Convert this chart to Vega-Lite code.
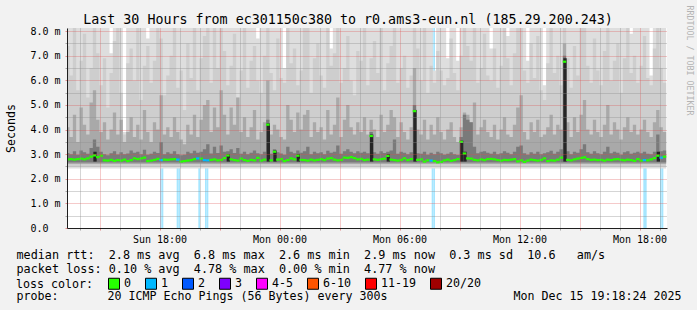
{
"$schema":"https://vega.github.io/schema/vega-lite/v6.json",
"width":600,"height":200,
"autosize":{"type":"none"},
"padding":{"left":67,"top":28,"right":30,"bottom":82},
"background":"#f2f2f2",
"config":{"view":{"stroke":null,"fill":"#ffffff"},"font":"DejaVu Sans Mono"},
"title":{"text":"Last 30 Hours from ec301150c380 to r0.ams3-eun.nl (185.29.200.243)","font":"DejaVu Sans Mono","fontSize":13.33,"fontWeight":"normal","color":"#000000","anchor":"middle","frame":"group","dx":-19,"offset":0,"baseline":"alphabetic","dy":32.5},
"datasets":{
"smoke":[
{"t":"2025-12-14T13:20","a":8.2,"b":7.4,"c":4.1,"d":3.05,"m":2.79,"l":"0"},
{"t":"2025-12-14T13:30","a":8.2,"b":6.2,"c":3.7,"d":3.0,"m":2.8,"l":"0"},
{"t":"2025-12-14T13:40","a":8.2,"b":8.2,"c":4.6,"d":3.12,"m":2.78,"l":"0"},
{"t":"2025-12-14T13:50","a":8.2,"b":5.6,"c":3.5,"d":2.98,"m":2.8,"l":"0"},
{"t":"2025-12-14T14:00","a":8.2,"b":6.8,"c":4.9,"d":3.15,"m":2.82,"l":"0"},
{"t":"2025-12-14T14:10","a":8.2,"b":7.9,"c":4.2,"d":3.08,"m":2.79,"l":"0"},
{"t":"2025-12-14T14:20","a":8.2,"b":5.3,"c":3.8,"d":3.02,"m":2.83,"l":"0"},
{"t":"2025-12-14T14:30","a":8.2,"b":6.5,"c":5.1,"d":3.25,"m":2.9,"l":"0"},
{"t":"2025-12-14T14:40","a":8.2,"b":8.2,"c":5.6,"d":3.6,"m":2.95,"l":"0"},
{"t":"2025-12-14T14:50","a":8.2,"b":7.1,"c":4.4,"d":3.3,"m":2.88,"l":"0"},
{"t":"2025-12-14T15:00","a":8.2,"b":5.8,"c":3.9,"d":3.1,"m":2.94,"l":"0"},
{"t":"2025-12-14T15:10","a":8.2,"b":6.9,"c":4.3,"d":3.0,"m":2.75,"l":"0"},
{"t":"2025-12-14T15:20","a":8.2,"b":4.9,"c":3.6,"d":2.96,"m":2.74,"l":"0"},
{"t":"2025-12-14T15:30","a":7.1,"b":6.3,"c":4.0,"d":3.04,"m":2.77,"l":"0"},
{"t":"2025-12-14T15:40","a":8.2,"b":7.6,"c":4.7,"d":3.12,"m":2.73,"l":"0"},
{"t":"2025-12-14T15:50","a":8.2,"b":8.2,"c":3.8,"d":2.99,"m":2.76,"l":"0"},
{"t":"2025-12-14T16:00","a":8.2,"b":5.5,"c":4.4,"d":3.08,"m":2.74,"l":"0"},
{"t":"2025-12-14T16:10","a":3.9,"b":3.8,"c":3.5,"d":3.0,"m":2.78,"l":"0"},
{"t":"2025-12-14T16:20","a":8.2,"b":6.7,"c":3.9,"d":3.03,"m":2.72,"l":"0"},
{"t":"2025-12-14T16:30","a":8.2,"b":7.3,"c":4.5,"d":3.15,"m":2.76,"l":"0"},
{"t":"2025-12-14T16:40","a":8.2,"b":6.0,"c":3.7,"d":3.06,"m":2.83,"l":"0"},
{"t":"2025-12-14T16:50","a":8.2,"b":8.2,"c":4.2,"d":3.1,"m":2.8,"l":"0"},
{"t":"2025-12-14T17:00","a":8.2,"b":5.2,"c":3.6,"d":3.0,"m":2.83,"l":"0"},
{"t":"2025-12-14T17:10","a":8.2,"b":6.6,"c":4.8,"d":3.18,"m":2.86,"l":"0"},
{"t":"2025-12-14T17:20","a":7.7,"b":7.4,"c":3.9,"d":2.98,"m":2.72,"l":"0"},
{"t":"2025-12-14T17:30","a":8.2,"b":5.9,"c":3.5,"d":3.02,"m":2.74,"l":"0"},
{"t":"2025-12-14T17:40","a":8.2,"b":6.8,"c":4.3,"d":3.1,"m":2.77,"l":"0"},
{"t":"2025-12-14T17:50","a":8.2,"b":8.2,"c":4.0,"d":3.05,"m":2.81,"l":"0"},
{"t":"2025-12-14T18:00","a":8.2,"b":7.7,"c":5.4,"d":3.5,"m":2.76,"l":"1"},
{"t":"2025-12-14T18:10","a":8.2,"b":5.4,"c":3.8,"d":3.0,"m":2.78,"l":"0"},
{"t":"2025-12-14T18:20","a":8.2,"b":6.2,"c":4.1,"d":3.08,"m":2.77,"l":"0"},
{"t":"2025-12-14T18:30","a":8.2,"b":7.0,"c":3.7,"d":3.02,"m":2.79,"l":"0"},
{"t":"2025-12-14T18:40","a":8.2,"b":8.2,"c":4.5,"d":3.12,"m":2.8,"l":"0"},
{"t":"2025-12-14T18:50","a":8.2,"b":5.7,"c":3.9,"d":3.0,"m":2.78,"l":"1"},
{"t":"2025-12-14T19:00","a":8.2,"b":6.4,"c":3.6,"d":2.96,"m":2.7,"l":"0"},
{"t":"2025-12-14T19:10","a":8.2,"b":4.8,"c":3.4,"d":2.98,"m":2.72,"l":"0"},
{"t":"2025-12-14T19:20","a":8.2,"b":7.5,"c":4.2,"d":3.1,"m":2.74,"l":"0"},
{"t":"2025-12-14T19:30","a":8.2,"b":6.1,"c":3.8,"d":3.04,"m":2.76,"l":"0"},
{"t":"2025-12-14T19:40","a":8.2,"b":8.2,"c":4.6,"d":3.14,"m":2.8,"l":"0"},
{"t":"2025-12-14T19:50","a":8.2,"b":5.6,"c":3.7,"d":3.06,"m":2.83,"l":"1"},
{"t":"2025-12-14T20:00","a":8.2,"b":6.9,"c":4.4,"d":3.1,"m":2.82,"l":"0"},
{"t":"2025-12-14T20:10","a":8.2,"b":7.8,"c":5.0,"d":3.2,"m":2.76,"l":"1"},
{"t":"2025-12-14T20:20","a":8.2,"b":8.2,"c":5.2,"d":3.4,"m":2.75,"l":"1"},
{"t":"2025-12-14T20:30","a":8.2,"b":5.9,"c":3.9,"d":3.03,"m":2.77,"l":"0"},
{"t":"2025-12-14T20:40","a":8.2,"b":8.2,"c":4.9,"d":3.3,"m":2.79,"l":"0"},
{"t":"2025-12-14T20:50","a":8.2,"b":6.5,"c":4.1,"d":3.05,"m":2.75,"l":"0"},
{"t":"2025-12-14T21:00","a":8.2,"b":8.2,"c":5.6,"d":3.35,"m":2.77,"l":"0"},
{"t":"2025-12-14T21:10","a":8.2,"b":7.2,"c":4.6,"d":3.1,"m":2.84,"l":"0"},
{"t":"2025-12-14T21:20","a":8.2,"b":5.8,"c":3.8,"d":3.12,"m":2.95,"l":"0"},
{"t":"2025-12-14T21:30","a":8.2,"b":6.6,"c":4.9,"d":3.2,"m":2.79,"l":"0"},
{"t":"2025-12-14T21:40","a":8.2,"b":7.9,"c":4.2,"d":3.05,"m":2.76,"l":"0"},
{"t":"2025-12-14T21:50","a":8.2,"b":5.3,"c":5.3,"d":3.25,"m":2.74,"l":"0"},
{"t":"2025-12-14T22:00","a":8.2,"b":6.4,"c":3.9,"d":3.02,"m":2.82,"l":"0"},
{"t":"2025-12-14T22:10","a":8.2,"b":8.2,"c":4.5,"d":3.1,"m":2.76,"l":"0"},
{"t":"2025-12-14T22:20","a":8.2,"b":5.7,"c":3.7,"d":3.0,"m":2.73,"l":"0"},
{"t":"2025-12-14T22:30","a":8.2,"b":6.8,"c":4.1,"d":3.06,"m":2.77,"l":"0"},
{"t":"2025-12-14T22:40","a":8.2,"b":7.4,"c":4.8,"d":3.15,"m":2.75,"l":"0"},
{"t":"2025-12-14T22:50","a":7.7,"b":6.0,"c":3.6,"d":3.04,"m":2.85,"l":"0"},
{"t":"2025-12-14T23:00","a":8.2,"b":5.5,"c":3.9,"d":3.0,"m":2.74,"l":"0"},
{"t":"2025-12-14T23:10","a":8.2,"b":7.0,"c":4.3,"d":3.1,"m":2.78,"l":"0"},
{"t":"2025-12-14T23:20","a":8.2,"b":8.2,"c":6.0,"d":4.4,"m":4.2,"l":"0"},
{"t":"2025-12-14T23:30","a":8.2,"b":6.3,"c":3.8,"d":3.02,"m":2.75,"l":"0"},
{"t":"2025-12-14T23:40","a":8.2,"b":5.6,"c":4.2,"d":3.2,"m":3.1,"l":"0"},
{"t":"2025-12-14T23:50","a":8.2,"b":7.7,"c":4.0,"d":3.08,"m":2.78,"l":"0"},
{"t":"2025-12-15T00:00","a":8.2,"b":6.1,"c":3.7,"d":3.03,"m":2.8,"l":"0"},
{"t":"2025-12-15T00:10","a":6.5,"b":5.9,"c":3.6,"d":2.98,"m":2.72,"l":"0"},
{"t":"2025-12-15T00:20","a":8.2,"b":8.2,"c":5.0,"d":3.3,"m":2.76,"l":"0"},
{"t":"2025-12-15T00:30","a":8.2,"b":6.7,"c":4.4,"d":3.1,"m":2.83,"l":"0"},
{"t":"2025-12-15T00:40","a":8.2,"b":7.3,"c":3.9,"d":3.04,"m":2.79,"l":"0"},
{"t":"2025-12-15T00:50","a":8.2,"b":5.8,"c":4.7,"d":3.15,"m":2.94,"l":"0"},
{"t":"2025-12-15T01:00","a":8.2,"b":6.4,"c":4.0,"d":3.06,"m":2.77,"l":"0"},
{"t":"2025-12-15T01:10","a":8.2,"b":8.2,"c":4.6,"d":3.12,"m":2.76,"l":"0"},
{"t":"2025-12-15T01:20","a":8.2,"b":8.2,"c":4.8,"d":3.3,"m":2.74,"l":"0"},
{"t":"2025-12-15T01:30","a":8.2,"b":5.5,"c":3.7,"d":3.0,"m":2.78,"l":"0"},
{"t":"2025-12-15T01:40","a":8.2,"b":6.9,"c":4.3,"d":3.1,"m":2.75,"l":"0"},
{"t":"2025-12-15T01:50","a":8.2,"b":7.5,"c":3.9,"d":3.04,"m":2.77,"l":"0"},
{"t":"2025-12-15T02:00","a":8.2,"b":6.2,"c":4.1,"d":3.08,"m":2.8,"l":"0"},
{"t":"2025-12-15T02:10","a":8.2,"b":5.7,"c":3.6,"d":3.0,"m":2.76,"l":"0"},
{"t":"2025-12-15T02:20","a":8.2,"b":8.2,"c":4.8,"d":3.14,"m":2.82,"l":"0"},
{"t":"2025-12-15T02:30","a":7.3,"b":6.6,"c":3.8,"d":3.06,"m":2.84,"l":"0"},
{"t":"2025-12-15T02:40","a":8.2,"b":7.1,"c":4.2,"d":3.1,"m":2.78,"l":"0"},
{"t":"2025-12-15T02:50","a":8.2,"b":8.2,"c":5.3,"d":3.35,"m":2.75,"l":"0"},
{"t":"2025-12-15T03:00","a":8.2,"b":5.9,"c":3.7,"d":3.02,"m":2.77,"l":"0"},
{"t":"2025-12-15T03:10","a":8.2,"b":6.5,"c":4.4,"d":3.12,"m":2.86,"l":"0"},
{"t":"2025-12-15T03:20","a":8.2,"b":7.8,"c":5.0,"d":3.2,"m":2.85,"l":"0"},
{"t":"2025-12-15T03:30","a":8.2,"b":6.0,"c":4.1,"d":3.1,"m":2.88,"l":"0"},
{"t":"2025-12-15T03:40","a":8.2,"b":5.4,"c":3.8,"d":3.04,"m":2.84,"l":"0"},
{"t":"2025-12-15T03:50","a":8.2,"b":7.2,"c":4.3,"d":3.12,"m":2.79,"l":"0"},
{"t":"2025-12-15T04:00","a":8.2,"b":6.8,"c":3.9,"d":3.06,"m":2.81,"l":"0"},
{"t":"2025-12-15T04:10","a":8.2,"b":8.2,"c":4.5,"d":3.1,"m":2.76,"l":"0"},
{"t":"2025-12-15T04:20","a":8.2,"b":5.8,"c":3.8,"d":3.04,"m":2.78,"l":"0"},
{"t":"2025-12-15T04:30","a":8.2,"b":6.9,"c":4.4,"d":3.9,"m":3.74,"l":"0"},
{"t":"2025-12-15T04:40","a":8.2,"b":7.6,"c":4.0,"d":3.08,"m":2.79,"l":"0"},
{"t":"2025-12-15T04:50","a":8.2,"b":6.3,"c":3.7,"d":3.02,"m":2.77,"l":"0"},
{"t":"2025-12-15T05:00","a":8.2,"b":8.2,"c":4.6,"d":3.12,"m":2.8,"l":"0"},
{"t":"2025-12-15T05:10","a":8.2,"b":5.6,"c":3.9,"d":3.05,"m":2.82,"l":"0"},
{"t":"2025-12-15T05:20","a":8.2,"b":6.7,"c":4.2,"d":3.1,"m":2.93,"l":"0"},
{"t":"2025-12-15T05:30","a":8.2,"b":7.4,"c":4.8,"d":3.15,"m":2.78,"l":"0"},
{"t":"2025-12-15T05:40","a":8.2,"b":8.2,"c":4.5,"d":3.6,"m":2.76,"l":"0"},
{"t":"2025-12-15T05:50","a":8.2,"b":5.9,"c":3.7,"d":3.02,"m":2.74,"l":"0"},
{"t":"2025-12-15T06:00","a":8.2,"b":6.5,"c":4.3,"d":3.1,"m":2.77,"l":"0"},
{"t":"2025-12-15T06:10","a":8.2,"b":7.0,"c":3.9,"d":3.06,"m":2.83,"l":"0"},
{"t":"2025-12-15T06:20","a":8.2,"b":5.7,"c":3.6,"d":3.0,"m":2.76,"l":"0"},
{"t":"2025-12-15T06:30","a":8.2,"b":6.2,"c":4.1,"d":3.08,"m":2.8,"l":"0"},
{"t":"2025-12-15T06:40","a":8.2,"b":8.2,"c":6.5,"d":5.0,"m":4.75,"l":"0"},
{"t":"2025-12-15T06:50","a":8.2,"b":7.3,"c":4.0,"d":3.04,"m":2.77,"l":"0"},
{"t":"2025-12-15T07:00","a":8.2,"b":6.0,"c":3.8,"d":3.02,"m":2.79,"l":"0"},
{"t":"2025-12-15T07:10","a":8.2,"b":8.2,"c":4.4,"d":3.1,"m":2.7,"l":"0"},
{"t":"2025-12-15T07:20","a":8.2,"b":5.5,"c":3.6,"d":2.98,"m":2.75,"l":"0"},
{"t":"2025-12-15T07:30","a":8.2,"b":6.6,"c":4.2,"d":3.06,"m":2.74,"l":"1"},
{"t":"2025-12-15T07:40","a":6.4,"b":5.9,"c":3.8,"d":3.0,"m":2.72,"l":"0"},
{"t":"2025-12-15T07:50","a":8.2,"b":7.2,"c":4.5,"d":3.1,"m":2.67,"l":"0"},
{"t":"2025-12-15T08:00","a":8.2,"b":6.4,"c":3.9,"d":3.04,"m":2.69,"l":"0"},
{"t":"2025-12-15T08:10","a":8.2,"b":5.8,"c":3.6,"d":2.98,"m":2.75,"l":"0"},
{"t":"2025-12-15T08:20","a":6.9,"b":6.1,"c":4.0,"d":3.02,"m":2.78,"l":"0"},
{"t":"2025-12-15T08:30","a":8.2,"b":7.7,"c":4.3,"d":3.08,"m":2.73,"l":"0"},
{"t":"2025-12-15T08:40","a":8.2,"b":6.3,"c":3.7,"d":3.0,"m":2.76,"l":"0"},
{"t":"2025-12-15T08:50","a":6.8,"b":5.6,"c":3.5,"d":2.97,"m":2.8,"l":"0"},
{"t":"2025-12-15T09:00","a":8.2,"b":7.0,"c":4.1,"d":3.7,"m":3.5,"l":"0"},
{"t":"2025-12-15T09:10","a":8.2,"b":8.2,"c":4.7,"d":4.6,"m":3.03,"l":"0"},
{"t":"2025-12-15T09:20","a":8.2,"b":7.4,"c":4.6,"d":4.4,"m":2.83,"l":"0"},
{"t":"2025-12-15T09:30","a":8.2,"b":6.8,"c":4.3,"d":4.3,"m":2.82,"l":"0"},
{"t":"2025-12-15T09:40","a":8.2,"b":8.2,"c":5.1,"d":3.3,"m":2.77,"l":"0"},
{"t":"2025-12-15T09:50","a":8.2,"b":5.9,"c":3.8,"d":3.04,"m":2.75,"l":"0"},
{"t":"2025-12-15T10:00","a":8.2,"b":6.5,"c":4.1,"d":3.1,"m":2.79,"l":"0"},
{"t":"2025-12-15T10:10","a":8.2,"b":7.9,"c":4.4,"d":3.12,"m":2.76,"l":"0"},
{"t":"2025-12-15T10:20","a":8.2,"b":6.2,"c":3.9,"d":3.06,"m":2.8,"l":"0"},
{"t":"2025-12-15T10:30","a":7.3,"b":6.0,"c":3.7,"d":3.02,"m":2.81,"l":"0"},
{"t":"2025-12-15T10:40","a":8.2,"b":7.3,"c":4.2,"d":3.1,"m":2.79,"l":"0"},
{"t":"2025-12-15T10:50","a":8.2,"b":5.7,"c":3.6,"d":3.0,"m":2.76,"l":"0"},
{"t":"2025-12-15T11:00","a":8.2,"b":6.6,"c":4.0,"d":3.04,"m":2.74,"l":"0"},
{"t":"2025-12-15T11:10","a":8.2,"b":8.2,"c":4.5,"d":3.12,"m":2.77,"l":"0"},
{"t":"2025-12-15T11:20","a":7.8,"b":6.9,"c":3.8,"d":3.06,"m":2.76,"l":"0"},
{"t":"2025-12-15T11:30","a":8.2,"b":5.8,"c":3.7,"d":3.0,"m":2.78,"l":"0"},
{"t":"2025-12-15T11:40","a":8.2,"b":7.1,"c":4.2,"d":3.1,"m":2.8,"l":"0"},
{"t":"2025-12-15T11:50","a":8.2,"b":8.2,"c":4.9,"d":3.3,"m":2.71,"l":"0"},
{"t":"2025-12-15T12:00","a":8.2,"b":8.2,"c":5.4,"d":3.35,"m":2.75,"l":"0"},
{"t":"2025-12-15T12:10","a":8.2,"b":6.4,"c":3.9,"d":3.04,"m":2.69,"l":"0"},
{"t":"2025-12-15T12:20","a":6.8,"b":5.9,"c":3.6,"d":2.98,"m":2.74,"l":"0"},
{"t":"2025-12-15T12:30","a":8.2,"b":7.5,"c":4.3,"d":3.08,"m":2.78,"l":"0"},
{"t":"2025-12-15T12:40","a":8.2,"b":6.1,"c":3.9,"d":3.02,"m":2.76,"l":"0"},
{"t":"2025-12-15T12:50","a":8.2,"b":7.8,"c":4.4,"d":3.1,"m":2.74,"l":"0"},
{"t":"2025-12-15T13:00","a":8.2,"b":5.6,"c":3.7,"d":3.0,"m":2.77,"l":"0"},
{"t":"2025-12-15T13:10","a":5.8,"b":5.2,"c":3.8,"d":3.04,"m":2.83,"l":"0"},
{"t":"2025-12-15T13:20","a":8.2,"b":6.7,"c":4.1,"d":3.08,"m":2.72,"l":"0"},
{"t":"2025-12-15T13:30","a":8.2,"b":8.2,"c":4.6,"d":3.14,"m":2.75,"l":"0"},
{"t":"2025-12-15T13:40","a":8.2,"b":6.3,"c":3.8,"d":3.02,"m":2.74,"l":"0"},
{"t":"2025-12-15T13:50","a":8.2,"b":7.0,"c":4.2,"d":3.1,"m":2.78,"l":"0"},
{"t":"2025-12-15T14:00","a":8.2,"b":5.8,"c":4.0,"d":3.2,"m":2.86,"l":"0"},
{"t":"2025-12-15T14:10","a":8.2,"b":8.2,"c":7.5,"d":7.0,"m":6.76,"l":"0"},
{"t":"2025-12-15T14:20","a":8.2,"b":6.9,"c":4.3,"d":3.12,"m":2.77,"l":"0"},
{"t":"2025-12-15T14:30","a":8.2,"b":5.7,"c":3.7,"d":3.0,"m":2.75,"l":"0"},
{"t":"2025-12-15T14:40","a":8.2,"b":7.4,"c":4.5,"d":3.1,"m":2.79,"l":"0"},
{"t":"2025-12-15T14:50","a":8.2,"b":6.2,"c":3.9,"d":3.06,"m":2.82,"l":"0"},
{"t":"2025-12-15T15:00","a":8.2,"b":8.2,"c":4.6,"d":3.2,"m":2.85,"l":"0"},
{"t":"2025-12-15T15:10","a":8.2,"b":8.2,"c":5.2,"d":3.4,"m":2.87,"l":"0"},
{"t":"2025-12-15T15:20","a":8.2,"b":6.6,"c":4.0,"d":3.08,"m":2.8,"l":"0"},
{"t":"2025-12-15T15:30","a":8.2,"b":5.9,"c":3.8,"d":3.02,"m":2.77,"l":"0"},
{"t":"2025-12-15T15:40","a":8.2,"b":7.7,"c":4.4,"d":3.12,"m":2.78,"l":"0"},
{"t":"2025-12-15T15:50","a":8.2,"b":6.4,"c":3.9,"d":3.04,"m":2.76,"l":"0"},
{"t":"2025-12-15T16:00","a":8.2,"b":5.8,"c":3.7,"d":3.0,"m":2.77,"l":"0"},
{"t":"2025-12-15T16:10","a":8.2,"b":7.2,"c":4.2,"d":3.1,"m":2.74,"l":"0"},
{"t":"2025-12-15T16:20","a":8.2,"b":8.2,"c":5.0,"d":3.3,"m":2.78,"l":"0"},
{"t":"2025-12-15T16:30","a":8.2,"b":6.0,"c":3.8,"d":3.04,"m":2.76,"l":"0"},
{"t":"2025-12-15T16:40","a":8.2,"b":6.8,"c":4.3,"d":3.1,"m":2.79,"l":"0"},
{"t":"2025-12-15T16:50","a":8.2,"b":7.5,"c":4.0,"d":3.06,"m":2.8,"l":"0"},
{"t":"2025-12-15T17:00","a":8.2,"b":5.5,"c":3.6,"d":2.98,"m":2.77,"l":"0"},
{"t":"2025-12-15T17:10","a":8.2,"b":6.9,"c":4.1,"d":3.08,"m":2.75,"l":"0"},
{"t":"2025-12-15T17:20","a":8.2,"b":8.2,"c":4.5,"d":3.12,"m":2.78,"l":"0"},
{"t":"2025-12-15T17:30","a":7.9,"b":6.3,"c":3.9,"d":3.02,"m":2.76,"l":"0"},
{"t":"2025-12-15T17:40","a":8.2,"b":7.0,"c":4.2,"d":3.06,"m":2.73,"l":"0"},
{"t":"2025-12-15T17:50","a":8.2,"b":5.9,"c":3.8,"d":3.1,"m":2.8,"l":"0"},
{"t":"2025-12-15T18:00","a":8.2,"b":6.6,"c":4.0,"d":3.04,"m":2.74,"l":"0"},
{"t":"2025-12-15T18:10","a":8.2,"b":7.8,"c":4.4,"d":3.1,"m":2.76,"l":"1"},
{"t":"2025-12-15T18:20","a":8.2,"b":6.1,"c":3.9,"d":3.02,"m":2.75,"l":"0"},
{"t":"2025-12-15T18:30","a":6.2,"b":5.8,"c":3.7,"d":3.0,"m":2.79,"l":"0"},
{"t":"2025-12-15T18:40","a":8.2,"b":7.3,"c":4.3,"d":3.1,"m":2.84,"l":"0"},
{"t":"2025-12-15T18:50","a":8.2,"b":8.2,"c":4.8,"d":3.8,"m":2.94,"l":"0"},
{"t":"2025-12-15T19:00","a":8.2,"b":6.5,"c":4.1,"d":3.12,"m":2.86,"l":"1"},
{"t":"2025-12-15T19:10","a":8.2,"b":5.9,"c":3.9,"d":3.15,"m":2.9,"l":"0"},
{"t":"2025-12-15T19:20","a":8.2,"b":5.9,"c":3.9,"d":3.15,"m":null,"l":"0"}
],
"spikes":[
{"t":"2025-12-14T14:40","e":3.1},
{"t":"2025-12-14T21:20","e":3.0},
{"t":"2025-12-14T23:20","e":4.25},
{"t":"2025-12-14T23:40","e":3.15},
{"t":"2025-12-15T00:50","e":3.0},
{"t":"2025-12-15T04:30","e":3.8},
{"t":"2025-12-15T05:20","e":3.0},
{"t":"2025-12-15T06:40","e":4.8},
{"t":"2025-12-15T09:00","e":3.55},
{"t":"2025-12-15T09:10","e":3.1},
{"t":"2025-12-15T14:10","e":6.9},
{"t":"2025-12-15T18:50","e":3.1}
],
"loss":[
{"t":"2025-12-14T18:00"},{"t":"2025-12-14T18:05"},{"t":"2025-12-14T18:50"},{"t":"2025-12-14T18:55"},
{"t":"2025-12-14T19:55"},{"t":"2025-12-14T20:15"},{"t":"2025-12-14T20:20"},
{"t":"2025-12-15T07:35"},{"t":"2025-12-15T07:40"},{"t":"2025-12-15T18:10"},{"t":"2025-12-15T18:15"},
{"t":"2025-12-15T19:00"},{"t":"2025-12-15T19:05"}
]
},
"layer":[
{"data":{"name":"loss"},
 "mark":{"type":"rect","color":"#a6e6ff","clip":true},
 "encoding":{
  "x":{"field":"t","type":"temporal","timeUnit":{"unit":"yearmonthdatehoursminutes","step":5},"axis":null,
       "scale":{"domain":[{"year":2025,"month":12,"date":14,"hours":13,"minutes":22,"seconds":30},{"year":2025,"month":12,"date":15,"hours":19,"minutes":22,"seconds":30}]}},
  "y":{"datum":0,"type":"quantitative","axis":null,"scale":{"domain":[0,8.13],"nice":false,"zero":false}},
  "y2":{"datum":8.2}
 }},
{"data":{"name":"smoke"},
 "mark":{"type":"area","interpolate":"step-after","color":"#dedede","clip":true},
 "encoding":{
  "x":{"field":"t","type":"temporal",
       "scale":{"domain":[{"year":2025,"month":12,"date":14,"hours":13,"minutes":22,"seconds":30},{"year":2025,"month":12,"date":15,"hours":19,"minutes":22,"seconds":30}]},
       "axis":{"orient":"bottom","title":["median rtt:\u00a0\u00a02.8 ms avg\u00a0\u00a06.8 ms max\u00a0\u00a02.6 ms min\u00a0\u00a02.9 ms now\u00a0\u00a00.3 ms sd\u00a0\u00a010.6\u00a0\u00a0\u00a0am/s","packet loss: 0.10 % avg\u00a0\u00a04.78 % max\u00a0\u00a00.00 % min\u00a0\u00a04.77 % now"],
        "titleX":-51,"titleY":30.5,"titleAlign":"left","titleAnchor":"start","titleBaseline":"alphabetic","titleLineHeight":14,
        "titleFont":"DejaVu Sans Mono","titleFontSize":11.79,"titleFontWeight":"normal","titleColor":"#000000",
        "tickCount":30,
        "labelExpr":"hours(datum.value) % 6 === 0 ? timeFormat(datum.value, '%a %H:%M') : ''",
        "labelFont":"DejaVu Sans Mono","labelFontSize":10,"labelColor":"#000000","labelPadding":4,"labelBaseline":"top",
        "labelFlush":false,"labelOverlap":false,
        "tickSize":2,"tickColor":{"condition":{"test":"hours(datum.value) % 3 === 0","value":"rgba(222,79,79,0.6)"},"value":"rgba(143,143,143,0.75)"},
        "grid":true,"gridDash":[1,1],"gridColor":{"condition":{"test":"hours(datum.value) % 3 === 0","value":"rgba(222,79,79,0.6)"},"value":"rgba(143,143,143,0.75)"},
        "domainColor":"#1f1f1f","zindex":1}},
  "y":{"field":"a","type":"quantitative","stack":null,"scale":{"domain":[0,8.13],"nice":false,"zero":false},
       "axis":{"title":"Seconds","titleX":-56,"titleY":100,"titleAngle":270,"titleAlign":"center","titleBaseline":"middle",
        "titleFont":"DejaVu Sans Mono","titleFontSize":11.63,"titleFontWeight":"normal","titleColor":"#000000",
        "values":[0,0.5,1,1.5,2,2.5,3,3.5,4,4.5,5,5.5,6,6.5,7,7.5,8],
        "labelExpr":"datum.value % 1 !== 0 ? '' : (datum.value === 0 ? '0.0' : format(datum.value, '.1f') + ' m')",
        "labelAlign":"left","labelPadding":35,"labelBaseline":"middle","labelFont":"DejaVu Sans Mono","labelFontSize":10,"labelColor":"#000000",
        "labelOverlap":false,"labelFlush":false,
        "tickSize":2,"tickColor":{"condition":{"test":"datum.value % 1 === 0","value":"rgba(222,79,79,0.6)"},"value":"rgba(143,143,143,0.75)"},
        "grid":true,"gridDash":[1,1],"gridColor":{"condition":{"test":"datum.value % 1 === 0","value":"rgba(222,79,79,0.6)"},"value":"rgba(143,143,143,0.75)"},
        "domainColor":"#1f1f1f","zindex":1}},
  "y2":{"datum":2.42}
 }},
{"data":{"name":"smoke"},
 "mark":{"type":"area","interpolate":"step-after","color":"#cecece","clip":true},
 "encoding":{
  "x":{"field":"t","type":"temporal",
       "axis":{"orient":"top","title":"probe:\u00a0\u00a0\u00a0\u00a0\u00a0\u00a0\u00a020 ICMP Echo Pings (56 Bytes) every 300s\u00a0\u00a0\u00a0\u00a0\u00a0\u00a0\u00a0\u00a0\u00a0\u00a0\u00a0\u00a0\u00a0\u00a0\u00a0\u00a0\u00a0\u00a0Mon Dec 15 19:18:24 2025",
        "titleX":-51,"titleY":271.5,"titleAlign":"left","titleAnchor":"start","titleBaseline":"alphabetic",
        "titleFont":"DejaVu Sans Mono","titleFontSize":11.63,"titleFontWeight":"normal","titleColor":"#000000",
        "labels":false,"ticks":false,"domain":false,"grid":false}},
  "y":{"field":"b","type":"quantitative","stack":null,"scale":{"domain":[0,8.13],"nice":false,"zero":false},
       "axis":{"orient":"right","title":"RRDTOOL / TOBI OETIKER","titleAngle":90,"titleX":21,"titleY":-23,"titleAlign":"left","titleBaseline":"middle",
        "titleFont":"DejaVu Sans Mono","titleFontSize":8.3,"titleFontWeight":"normal","titleColor":"#b4b4b4",
        "labels":false,"ticks":false,"domain":false,"grid":false}},
  "y2":{"datum":2.52}
 }},
{"data":{"name":"smoke"},
 "mark":{"type":"area","interpolate":"step-after","color":"#a9a9a9","clip":true},
 "encoding":{
  "x":{"field":"t","type":"temporal","axis":null},
  "y":{"field":"c","type":"quantitative","stack":null,"scale":{"domain":[0,8.13],"nice":false,"zero":false},"axis":null},
  "y2":{"datum":2.6}
 }},
{"data":{"name":"smoke"},
 "mark":{"type":"area","interpolate":"step-after","color":"#7a7a7a","clip":true},
 "encoding":{
  "x":{"field":"t","type":"temporal","axis":null},
  "y":{"field":"d","type":"quantitative","stack":null,"scale":{"domain":[0,8.13],"nice":false,"zero":false},"axis":null},
  "y2":{"datum":2.66}
 }},
{"data":{"name":"spikes"},
 "mark":{"type":"rect","color":"#262626","clip":true},
 "encoding":{
  "x":{"field":"t","type":"temporal","timeUnit":{"unit":"yearmonthdatehoursminutes","step":10},"axis":null},
  "y":{"field":"e","type":"quantitative","scale":{"domain":[0,8.13],"nice":false,"zero":false},"axis":null},
  "y2":{"datum":2.7}
 }},
{"data":{"name":"smoke"},
 "mark":{"type":"tick","orient":"horizontal","thickness":2.2,"size":3.5,"opacity":1,"clip":true},
 "encoding":{
  "x":{"field":"t","type":"temporal","timeUnit":{"unit":"yearmonthdatehoursminutes","step":10},"bandPosition":0.5,"axis":null},
  "y":{"field":"m","type":"quantitative","scale":{"domain":[0,8.13],"nice":false,"zero":false},"axis":null},
  "color":{"field":"l","type":"nominal",
   "scale":{"domain":["0","1","2","3","4-5","6-10","11-19","20/20"],"range":["#26ff00","#00b8ff","#0059ff","#7e00ff","#ff00ff","#ff5500","#ff0000","#a00000"]},
   "legend":{"title":"loss color:","orient":"none","legendX":-51,"legendY":249.5,"direction":"horizontal","titleOrient":"left",
    "symbolType":"square","symbolSize":121,"symbolStrokeColor":"#000000","symbolStrokeWidth":1,"symbolOpacity":1,
    "labelFont":"DejaVu Sans Mono","labelFontSize":11.63,"labelColor":"#000000","labelOffset":4,
    "titleFont":"DejaVu Sans Mono","titleFontSize":11.63,"titleFontWeight":"normal","titleColor":"#000000","titlePadding":15,"titleBaseline":"middle",
    "columnPadding":12,"padding":0}}
 }}
],
"resolve":{"axis":{"x":"independent","y":"independent"}}
}
